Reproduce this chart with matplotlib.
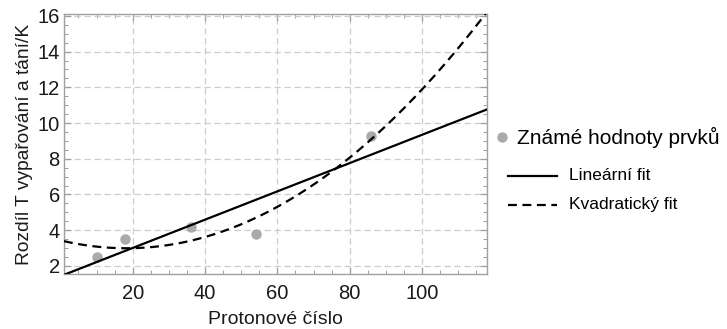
import numpy as np
import matplotlib
matplotlib.use('Agg')
import matplotlib.pyplot as plt
from matplotlib.lines import Line2D
from matplotlib.ticker import MultipleLocator
from matplotlib import rcParams
rcParams['font.family'] = 'Liberation Sans'

# noble gases: proton number vs (boiling - melting) temperature
protonNumbers = [10, 18, 36, 54, 86]
tempDiff = [2.5, 3.5, 4.15, 3.8, 9.3]

xMin, xMax = 1, 118

linCoef = np.polyfit(protonNumbers, tempDiff, 1)
quadCoef = np.polyfit(protonNumbers, tempDiff, 2)
xs = np.linspace(xMin, xMax, 400)

fig = plt.figure(figsize=(7.27, 3.29), dpi=100)
ax = fig.add_axes([0.088, 0.167, 0.582, 0.790])

frameColor = '#a0a0a0'
ax.grid(True, which='major', color='#cccccc', linestyle=(0, (5, 3)), linewidth=0.9)
ax.set_axisbelow(True)

ax.plot(protonNumbers, tempDiff, 'o', color='#aaaaaa', markersize=6.5, zorder=3)
ax.plot(xs, np.polyval(linCoef, xs), color='black', linewidth=1.6, zorder=4)
ax.plot(xs, np.polyval(quadCoef, xs), color='black', linewidth=1.6, linestyle=(0, (4, 2.5)), zorder=4)

ax.set_xlim(xMin, xMax)
ax.set_ylim(1.54, 16.1)
ax.xaxis.set_major_locator(MultipleLocator(20))
ax.xaxis.set_minor_locator(MultipleLocator(5))
ax.yaxis.set_major_locator(MultipleLocator(2))
ax.yaxis.set_minor_locator(MultipleLocator(0.5))
ax.tick_params(which='both', direction='in', top=True, right=True, color=frameColor, labelsize=14.5, labelcolor='#1a1a1a')
ax.tick_params(which='major', length=5, width=0.9)
ax.tick_params(which='minor', length=3, width=0.7)
ax.tick_params(axis='x', pad=7)
ax.tick_params(axis='y', pad=3)
for s in ax.spines.values():
    s.set_color(frameColor)
    s.set_linewidth(1.0)

ax.set_xlabel('Protonové číslo', fontsize=14, color='#1a1a1a', labelpad=6)
ax.set_ylabel('Rozdíl T vypařování a tání/K', fontsize=13.8, color='#1a1a1a', labelpad=3)

# legend drawn by hand, outside the frame
W, H = 727.0, 329.0
fig.add_artist(Line2D([502/W], [1-137/H], marker='o', color='#aaaaaa', markersize=6.5, linestyle='none'))
fig.text(517/W, 1-137/H, 'Známé hodnoty prvků', fontsize=15, va='center', ha='left', color='black')
fig.add_artist(Line2D([508/W, 557/W], [1-176/H, 1-176/H], color='black', linewidth=1.6))
fig.text(569/W, 1-176/H, 'Lineární fit', fontsize=12.5, va='center', ha='left', color='black')
fig.add_artist(Line2D([508/W, 557/W], [1-205/H, 1-205/H], color='black', linewidth=1.6, linestyle=(0, (4, 2.5))))
fig.text(569/W, 1-205/H, 'Kvadratický fit', fontsize=12.5, va='center', ha='left', color='black')

fig.savefig('out.png', dpi=100)
